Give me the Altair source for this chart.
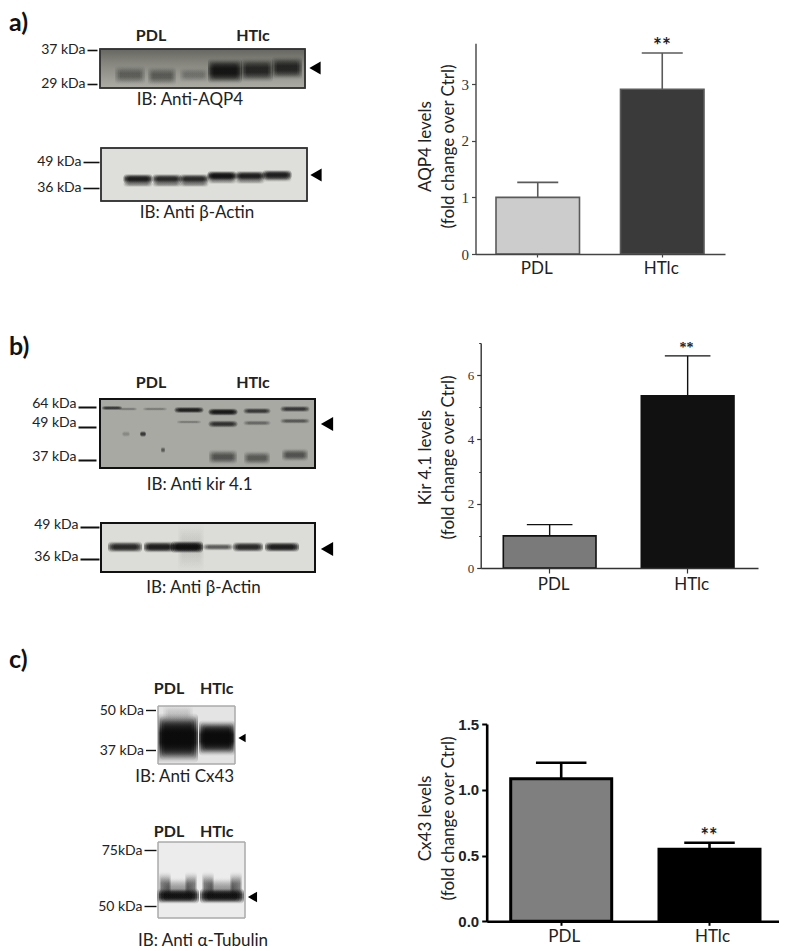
import altair as alt
import pandas as pd

# ---------- values ----------
categories = ["PDL", "HTlc"]

aqp4_mean = [1.0, 2.91]
aqp4_top = [1.265, 3.55]
kir_mean = [1.0, 5.36]
kir_top = [1.35, 6.6]
cx43_mean = [1.083, 0.547]
cx43_top = [1.205, 0.597]

# gel bands: lane centre, migration, width, thickness, density (gel units)
aqp4_x = [30, 62, 94, 125, 157, 187]
aqp4_y = [26, 27, 26, 22, 21, 19]
aqp4_w = [30, 28, 28, 34, 32, 30]
aqp4_t = [20, 20, 16, 26, 25, 24]
aqp4_d = [.42, .45, .28, .92, .8, .8]

actin1_x = [37, 66, 93, 121, 149, 176, 37, 66, 93, 121, 149, 176]
actin1_y = [31, 31, 31, 28, 28, 27, 36, 36, 36, 33, 33, 31]
actin1_w = [29] * 12
actin1_t = [11, 11, 11, 11, 11, 11, 7, 7, 7, 7, 7, 7]
actin1_d = [.9, .85, .85, .95, .9, .9, .4, .4, .4, .35, .35, .3]

kir_x = [12, 28, 55, 89, 123, 157, 195, 89, 123, 157, 195, 123, 157, 195, 43, 26, 63]
kir_y = [9, 10, 10, 11, 13, 12, 10, 23, 25, 24, 22, 58, 59, 56, 35, 35, 51]
kir_w = [20, 18, 24, 29, 29, 27, 29, 24, 29, 27, 29, 28, 26, 26, 6, 8, 4]
kir_t = [5, 4, 4, 7, 8, 7, 7, 4, 8, 6, 6, 16, 15, 14, 7, 7, 7]
kir_d = [.7, .3, .3, .85, .9, .7, .7, .3, .75, .4, .5, .55, .5, .55, .7, .2, .5]

actin2_x = [24, 58, 86, 117, 147, 181, 90]
actin2_y = [24, 24, 24, 24, 24, 24, 25]
actin2_w = [34, 30, 32, 30, 30, 34, 26]
actin2_t = [12, 12, 13, 8, 11, 11, 54]
actin2_d = [.85, .9, .97, .6, .85, .9, .1]

cx43_x = [20, 59, 20]
cx43_y = [32, 32, 8]
cx43_w = [40, 36, 30]
cx43_t = [50, 36, 20]
cx43_d = [1, 1, .15]

tub_x = [20, 64, 20, 64, 7, 33, 50, 78]
tub_y = [54, 54, 47, 47, 44, 44, 44, 44]
tub_w = [42, 44, 34, 36, 12, 12, 12, 12]
tub_t = [16, 16, 24, 24, 30, 30, 30, 30]
tub_d = [.95, .95, .35, .35, .45, .45, .45, .45]

VIEW_W, VIEW_H = 771, 943
OFF = 8


def X(v):
    return v - OFF


def Y(v):
    return v - OFF


def txt(s, x, y, size=15, bold=False, font="Lato", color="#222222", align="center"):
    return alt.Chart(pd.DataFrame({"t": [s]})).mark_text(
        font=font, fontSize=size, fontWeight="bold" if bold else "normal",
        color=color, align=align, baseline="middle",
    ).encode(x=alt.value(X(x)), y=alt.value(Y(y)), text="t:N")


def grad(stops):
    return {"gradient": "linear", "x1": 0, "x2": 0, "y1": 0, "y2": 1,
            "stops": [{"offset": o, "color": c} for o, c in stops]}


BAND_FILL = grad([(0, "rgba(10,10,10,0)"), (.2, "rgba(10,10,10,.55)"), (.4, "rgba(10,10,10,1)"),
                  (.6, "rgba(10,10,10,1)"), (.8, "rgba(10,10,10,.55)"), (1, "rgba(10,10,10,0)")])


def blot(frame, fill, stroke, sw, xs, ys, ws, ts, ds, ticks, labels, tick_end, tick_size,
         tick_w, label_off, arrow, arrow_size):
    x0, y0, x1, y1 = frame
    w, h = x1 - x0, y1 - y0
    sx = alt.Scale(domain=[0, w], range=[X(x0), X(x1)])
    sy = alt.Scale(domain=[0, h], range=[Y(y0), Y(y1)])
    expr = "''"
    for t, l in zip(ticks, labels):
        expr = f"datum.value=={t}?'{l}':{expr}"
    bg = alt.Chart(pd.DataFrame({"a": [0], "b": [w], "c": [0], "d": [h]})).mark_rect(
        fill=fill, stroke=stroke, strokeWidth=sw,
    ).encode(
        x=alt.X("a:Q", scale=sx, axis=None),
        x2="b:Q",
        y=alt.Y("c:Q", scale=sy, axis=alt.Axis(
            orient="left", offset=-X(tick_end), values=ticks, labelExpr=expr, title=None,
            grid=False, domain=False, ticks=True, tickSize=tick_size, tickWidth=tick_w,
            tickColor="#111111", labelFont="Lato", labelFontSize=14, labelColor="#222222",
            labelPadding=2, labelOffset=label_off)),
        y2="d:Q",
    )
    rows = []
    for a, b, c, e, d in zip(xs, ys, ws, ts, ds):
        levels = [(1, 1), (.9, .9), (.8, .8), (.68, .7)]
        for fw, fh in levels:
            rows.append({"a": a - c * fw / 2, "b": a + c * fw / 2,
                         "c": b - e * fh / 2, "d": b + e * fh / 2,
                         "o": 1 - (1 - min(d, .995)) ** (1 / len(levels))})
    bands = alt.Chart(pd.DataFrame(rows)).mark_rect(fill=BAND_FILL, cornerRadius=4).encode(
        x=alt.X("a:Q", scale=sx, axis=None),
        x2="b:Q",
        y=alt.Y("c:Q", scale=sy, axis=None),
        y2="d:Q",
        fillOpacity=alt.FillOpacity("o:Q", scale=None),
    )
    edge = alt.Chart(pd.DataFrame({"a": [0], "b": [w], "c": [0], "d": [h]})).mark_rect(
        fillOpacity=0, stroke=stroke, strokeWidth=sw,
    ).encode(
        x=alt.X("a:Q", scale=sx, axis=None), x2="b:Q",
        y=alt.Y("c:Q", scale=sy, axis=None), y2="d:Q",
    )
    ah = alt.Chart(pd.DataFrame({"a": [arrow[0] - x0], "c": [arrow[1] - y0]})).mark_point(
        shape="triangle-left", filled=True, color="#000000", opacity=1, size=arrow_size,
    ).encode(
        x=alt.X("a:Q", scale=sx, axis=None),
        y=alt.Y("c:Q", scale=sy, axis=None),
    )
    return [bg, bands, edge, ah]


def bars(means, tops, fills, x_range, bar_left, bar_right, bw, y_dom, y_rng, ticks,
         minor, stroke, sw, cap, err_w, axis_w, axis_color, tick_font, tick_size_font,
         tick_bold, tick_color, t_lines, t_y, x_tick, y_tick, tick_w, x_lab_off, x_lab_pad,
         star_font, star_size, star_dy, star_color):
    step = (bar_right - bw / 2) - (bar_left + bw / 2)
    r0, r1 = x_range
    left, right = bar_left - r0, r1 - bar_right
    s_x = alt.Scale(domain=categories, range=[X(r0), X(r1)], paddingInner=1 - bw / step,
                    paddingOuter=(left + right) / (2 * step), align=left / (left + right))
    s_y = alt.Scale(domain=y_dom, range=[Y(y_rng[0]), Y(y_rng[1])], nice=False)
    df = pd.DataFrame({"c": categories, "m": means, "t": tops, "f": fills})
    x_ax = alt.Axis(
        orient="bottom", offset=Y(y_rng[0]) - VIEW_H, title=None, grid=False, zindex=1,
        domainColor=axis_color, domainWidth=axis_w, tickColor=axis_color, tickWidth=tick_w,
        tickSize=x_tick, labelFont="Lato", labelFontSize=17, labelColor="#222222",
        labelAngle=0, labelPadding=x_lab_pad, labelOffset=x_lab_off, labelBaseline="top")
    y_ax = alt.Axis(
        orient="left", offset=-X(r0), values=ticks, title=t_lines, titleFont="Lato",
        titleFontSize=17, titleFontWeight="normal", titleColor="#222222",
        titleLineHeight=23.5, titleAngle=270, titleBaseline="top", titleAlign="center",
        titleX=417 - r0, titleY=Y(t_y), grid=False, zindex=1,
        domainColor=axis_color, domainWidth=axis_w, tickColor=axis_color, tickWidth=tick_w,
        tickSize=y_tick, labelFont=tick_font, labelFontSize=tick_size_font,
        labelFontWeight="bold" if tick_bold else "normal", labelColor=tick_color,
        labelPadding=3, format="~g" if not tick_bold else ".1f")
    base = alt.Chart(df)
    b = base.mark_bar(stroke=stroke, strokeWidth=sw).encode(
        x=alt.X("c:N", scale=s_x, sort=categories, axis=x_ax),
        y=alt.Y("m:Q", scale=s_y, axis=y_ax),
        fill=alt.Fill("f:N", scale=None),
    )
    minor_ax = None
    if minor:
        minor_ax = alt.Axis(orient="left", offset=-X(r0), values=minor, title=None, labels=False,
                            domain=False, grid=False, tickColor=axis_color, tickWidth=1,
                            tickSize=2)
    r = base.mark_rule(color=stroke, strokeWidth=err_w).encode(
        x=alt.X("c:N", scale=s_x, sort=categories, axis=None),
        y=alt.Y("m:Q", scale=s_y, axis=minor_ax),
        y2="t:Q",
    )
    k = base.mark_tick(orient="horizontal", size=cap, thickness=err_w, color=stroke, opacity=1).encode(
        x=alt.X("c:N", scale=s_x, sort=categories, axis=None),
        y=alt.Y("t:Q", scale=s_y, axis=None),
    )
    st = alt.Chart(df[df.c == "HTlc"].assign(s="**")).mark_text(
        font=star_font, fontSize=star_size, fontWeight="bold", color=star_color,
        baseline="middle", dy=star_dy,
    ).encode(
        x=alt.X("c:N", scale=s_x, sort=categories, axis=None),
        y=alt.Y("t:Q", scale=s_y, axis=None),
        text="s:N",
    )
    return [r, k, b, st]


units = []

# ---------- panel a ----------
units += blot((100, 49, 305, 88),
              grad([(0, "#666660"), (.35, "#85857e"), (1, "#adada6")]), "#333333", 1.5,
              aqp4_x, aqp4_y, aqp4_w, aqp4_t, aqp4_d,
              [1, 35], ["37 kDa", "29 kDa"], 97, 10, 1.6, -1, (315, 68), 170)
units += blot((101, 148, 307, 201), "#dededa", "#333333", 1.5,
              actin1_x, actin1_y, actin1_w, actin1_t, actin1_d,
              [14, 40], ["49 kDa", "36 kDa"], 99, 16, 1.6, -1, (316, 175), 170)
units += [txt("PDL", 151, 36, 16, True), txt("HTlc", 253, 36, 16, True),
          txt("IB: Anti-AQP4", 190, 100, 17), txt("IB: Anti β-Actin", 197, 213, 17),
          txt("a)", 9, 23, 25, True, color="#111111", align="left")]
units += bars(aqp4_mean, aqp4_top, ["#cccccc", "#3a3a3a"], (475.5, 725), 496, 704, 83.5,
              [0, 3.72], (254, 43.3), [0, 1, 2, 3], None, "#5a5a5a", 1.6, 41, 1.6, 1.4,
              "#444444", "Liberation Serif", 15, False, "#333333",
              ["AQP4 levels", "(fold change over Ctrl)"], 146, 3, 4, 1.2, -1, 3,
              "Lato", 21, -6, "#222222")

# ---------- panel b ----------
units += blot((100, 399, 315, 468), "#a9a9a4", "#111111", 2,
              kir_x, kir_y, kir_w, kir_t, kir_d,
              [8, 27.5, 61], ["64 kDa", "49 kDa", "37 kDa"], 96, 18, 2, -4, (327, 424), 200)
units += blot((101, 523, 315, 572), "#dcdcd8", "#111111", 2,
              actin2_x, actin2_y, actin2_w, actin2_t, actin2_d,
              [4, 36], ["49 kDa", "36 kDa"], 99, 19, 2, -3, (327, 549), 200)
units += [txt("PDL", 151, 383, 16, True), txt("HTlc", 253, 383, 16, True),
          txt("IB: Anti kir 4.1", 199.7, 485, 17), txt("IB: Anti β-Actin", 203.5, 588, 17),
          txt("b)", 9, 347, 25, True, color="#111111", align="left")]
units += bars(kir_mean, kir_top, ["#7a7a7a", "#111111"], (480.7, 758), 503.3, 734, 92.7,
              [0, 7], (568, 343), [0, 2, 4, 6], [1, 3, 5, 7], "#111111", 1.6, 45.6, 1.4, 1.4,
              "#333333", "Liberation Serif", 13, False, "#333333",
              ["Kir 4.1 levels", "(fold change over Ctrl)"], 457, 5, 4, 1.2, 4, 3,
              "Liberation Serif", 14, -8, "#222222")

# ---------- panel c ----------
units += blot((158, 706, 235, 764), "#e4e4e4", "#aaaaaa", 1,
              cx43_x, cx43_y, cx43_w, cx43_t, cx43_d,
              [4, 44], ["50 kDa", "37 kDa"], 155.5, 10, 1.4, 0, (242, 738), 70)
units += blot((158, 842, 245, 918), "#ececec", "#aaaaaa", 1,
              tub_x, tub_y, tub_w, tub_t, tub_d,
              [8, 64], ["75kDa", "50 kDa"], 156, 12, 1.4, 0, (252.5, 897), 110)
units += [txt("PDL", 169, 689, 16, True), txt("HTlc", 216.7, 689, 16, True),
          txt("PDL", 169, 832, 16, True), txt("HTlc", 216.7, 832, 16, True),
          txt("IB: Anti Cx43", 184.7, 777, 17), txt("IB: Anti α-Tubulin", 203, 941, 17),
          txt("c)", 9, 660, 25, True, color="#111111", align="left")]
units += bars(cx43_mean, cx43_top, ["#7f7f7f", "#000000"], (486.7, 785), 510.7, 760, 101,
              [0, 1.5], (921.3, 724), [0, .5, 1, 1.5], None, "#000000", 3, 50.5, 2.6, 2.6,
              "#000000", "Liberation Sans", 15, True, "#222222",
              ["Cx43 levels", "(fold change over Ctrl)"], 818, 4, 5, 2, 3, 3,
              "Lato", 20, -6, "#222222")

chart = alt.layer(*units).resolve_scale(x="independent", y="independent").resolve_axis(
    x="independent", y="independent"
).properties(
    width=VIEW_W, height=VIEW_H, padding=0,
    autosize=alt.AutoSizeParams(type="none"), background="white",
).configure_view(stroke=None)

chart.save("out.html", embed_options={"renderer": "svg", "actions": False})
